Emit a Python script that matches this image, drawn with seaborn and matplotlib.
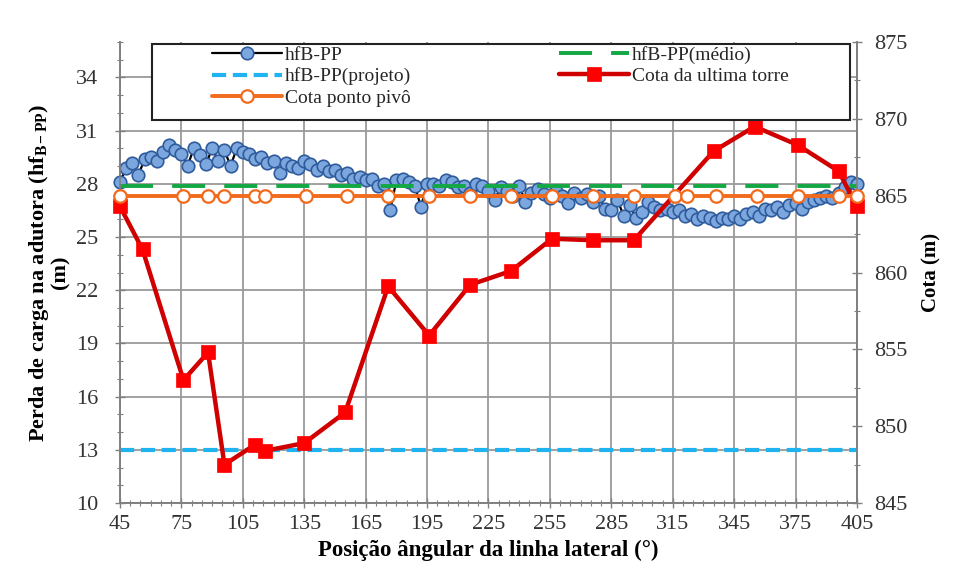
import numpy as np
import matplotlib
matplotlib.use("Agg")
import matplotlib.pyplot as plt
import seaborn as sns
from matplotlib.ticker import MultipleLocator
from matplotlib.patches import Rectangle

# ---------------- data ----------------
hf_x = np.arange(45, 406, 3)
hf_values = [
    28.1, 28.9, 29.2, 28.5, 29.4, 29.5, 29.3, 29.8, 30.2, 29.9,
    29.7, 29.0, 30.0, 29.6, 29.1, 30.0, 29.3, 29.9, 29.0, 30.0,
    29.8, 29.7, 29.4, 29.5, 29.2, 29.3, 28.6, 29.2, 29.0, 28.9,
    29.3, 29.1, 28.8, 29.0, 28.7, 28.8, 28.5, 28.6, 28.3, 28.4,
    28.2, 28.3, 27.9, 28.0, 26.5, 28.2, 28.3, 28.1, 27.9, 26.7,
    28.0, 28.0, 27.9, 28.2, 28.1, 27.8, 27.9, 27.5, 28.0, 27.9,
    27.6, 27.1, 27.8, 27.6, 27.3, 27.9, 27.0, 27.5, 27.7, 27.4,
    27.2, 27.6, 27.3, 26.9, 27.5, 27.2, 27.4, 27.0, 27.3, 26.6,
    26.5, 27.1, 26.2, 26.8, 26.1, 26.4, 27.0, 26.7, 26.5, 26.6,
    26.4, 26.5, 26.2, 26.3, 26.0, 26.2, 26.1, 25.9, 26.1, 26.0,
    26.2, 26.0, 26.3, 26.4, 26.2, 26.6, 26.5, 26.7, 26.4, 26.8,
    26.9, 26.6, 27.0, 27.1, 27.2, 27.3, 27.2, 27.5, 27.8, 28.1,
    28.0,
]
hf_medio = 27.9
hf_projeto = 13.0

torre_x = [45, 56, 76, 88, 96, 111, 116, 135, 155, 176, 196, 216, 236,
           256, 276, 296, 335, 355, 376, 396, 405]
torre_cota = [864.3, 861.5, 853.0, 854.8, 847.5, 848.8, 848.4, 848.9, 850.9,
              859.1, 855.9, 859.2, 860.1, 862.2, 862.1, 862.1, 867.9, 869.5,
              868.3, 866.6, 864.3]

pivo_x = [45, 76, 88, 96, 111, 116, 136, 156, 176, 196, 216, 236, 256,
          276, 296, 316, 322, 336, 356, 376, 396, 405]
pivo_cota = 865.0

x_ticks = list(range(45, 406, 30))
left_ticks = list(range(10, 35, 3))
right_ticks = list(range(845, 876, 5))

labels = ["hfB-PP", "hfB-PP(projeto)", "Cota ponto pivô",
          "hfB-PP(médio)", "Cota da ultima torre"]

# ---------------- style ----------------
sns.set_theme(style="white")
plt.rcParams["font.family"] = ["Liberation Serif", "DejaVu Serif"]
plt.rcParams["mathtext.fontset"] = "custom"
plt.rcParams["mathtext.rm"] = "Liberation Serif"
plt.rcParams["mathtext.it"] = "Liberation Serif:italic"
plt.rcParams["mathtext.bf"] = "Liberation Serif:bold"

fig = plt.figure(figsize=(9.54, 5.77), dpi=100)
ax = fig.add_axes([0.1258, 0.1282, 0.8983 - 0.1258, 0.9272 - 0.1282])
ax2 = ax.twinx()

# primary axis series
sns.lineplot(x=hf_x, y=hf_values, ax=ax, color="black", lw=1.6,
             marker="o", markersize=9, markerfacecolor="#7ba7de",
             markeredgecolor="#2f5b9c", markeredgewidth=1.2, clip_on=False,
             zorder=3)
l_proj = ax.axhline(hf_projeto, color="#1fb4f0", lw=3.0, dashes=(3.4, 1.6),
                    zorder=3)
l_med = ax.axhline(hf_medio, color="#13a844", lw=2.8, dashes=(8.5, 4.9),
                   zorder=4)
l_hf = ax.lines[0]

# secondary axis series
sns.lineplot(x=torre_x, y=torre_cota, ax=ax2, color="#d00000", lw=3.2,
             marker="s", markersize=9.5, markerfacecolor="#ff0000",
             markeredgecolor="#ff0000", markeredgewidth=0.5, clip_on=False,
             zorder=3)
sns.lineplot(x=pivo_x, y=[pivo_cota] * len(pivo_x), ax=ax2, color="#f26a1b",
             lw=2.8, marker="o", markersize=9, markerfacecolor="white",
             markeredgecolor="#f26a1b", markeredgewidth=1.6, clip_on=False,
             zorder=4)
l_torre = ax2.lines[0]
l_pivo = ax2.lines[1]

for a in (ax, ax2):
    if a.get_legend() is not None:
        a.get_legend().remove()

# axes limits/ticks
ax.set_xlim(45, 405)
ax.set_ylim(10, 36)
ax2.set_ylim(845, 875)
ax.set_xticks(x_ticks)
ax.set_yticks(left_ticks)
ax2.set_yticks(right_ticks)
ax.xaxis.set_minor_locator(MultipleLocator(5))
ax.yaxis.set_minor_locator(MultipleLocator(1))
ax2.yaxis.set_minor_locator(MultipleLocator(2.5))

ax.grid(True, which="major", color="#9a9a9a", lw=1.3)
ax.set_axisbelow(True)

spine_c = "#808080"
for a in (ax, ax2):
    for s in a.spines.values():
        s.set_color(spine_c)
        s.set_linewidth(1.2)
    a.spines["top"].set_visible(False)

ax.tick_params(axis="both", which="major", direction="inout", length=7,
               width=1.0, color=spine_c, labelsize=16, labelcolor="#333333")
ax.tick_params(axis="y", which="major", pad=12, left=True)
ax.tick_params(axis="x", which="major", pad=5, bottom=True)
ax.tick_params(axis="both", which="minor", direction="inout", length=4,
               width=0.8, color=spine_c, left=True, bottom=True)
ax2.tick_params(axis="y", which="major", direction="inout", length=7,
                width=1.0, color=spine_c, labelsize=16, labelcolor="#333333",
                pad=9, right=True)
ax2.tick_params(axis="y", which="minor", direction="inout", length=4,
                width=0.8, color=spine_c, right=True)

ax.set_xlabel("Posição ângular da linha lateral (°)", fontsize=16.5,
              fontweight="bold", color="black", labelpad=4)
ax.set_ylabel("Perda de carga na adutora (hf$_{\\mathbf{B-PP}}$)\n(m)",
              fontsize=16, fontweight="bold", color="black", labelpad=4,
              linespacing=1.0)
ax2.set_ylabel("Cota (m)", fontsize=15, fontweight="bold", color="black",
               labelpad=10)

# legend box + legend
box = Rectangle((0.0434, 0.831), 0.947, 0.165, transform=ax2.transAxes,
                facecolor="white", edgecolor="#222222", lw=1.5, zorder=6,
                clip_on=False)
ax2.add_patch(box)
handles = [l_hf, l_proj, l_pivo, l_med, l_torre]
leg = ax2.legend(handles, labels, ncol=2, loc="upper left",
                 bbox_to_anchor=(0.1248, 0.992), frameon=False, fontsize=14,
                 handlelength=3.6, handletextpad=0.15, columnspacing=7.6,
                 labelspacing=0.2, borderpad=0.0, borderaxespad=0.0)
leg.set_zorder(7)

fig.savefig("out.png", dpi=100)
